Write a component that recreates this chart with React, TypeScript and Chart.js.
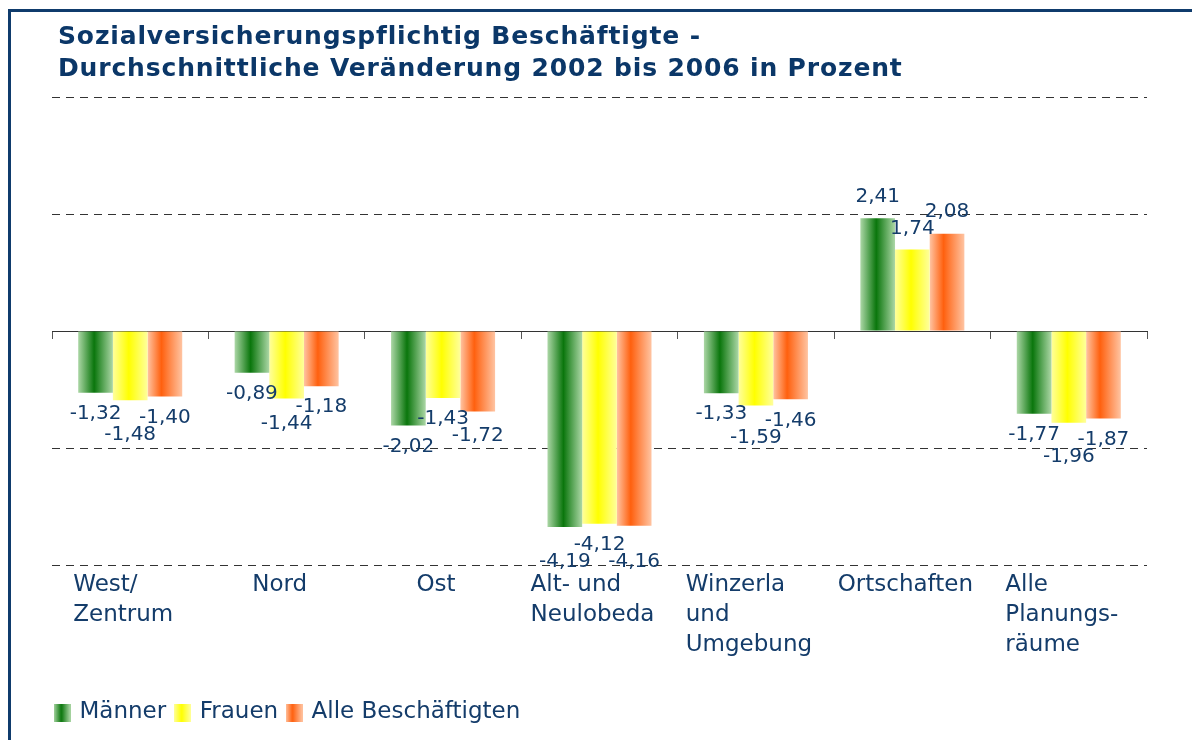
import React, { useEffect, useRef } from "react";
import { Chart, registerables } from "chart.js";

Chart.register(...registerables);

// Planning areas (line breaks as shown under the axis)
const categories: string[][] = [
  ["West/", "Zentrum"],
  ["Nord"],
  ["Ost"],
  ["Alt- und", "Neulobeda"],
  ["Winzerla", "und", "Umgebung"],
  ["Ortschaften"],
  ["Alle", "Planungs-", "räume"],
];

// Average annual change 2002–2006 in percent
const maenner = [-1.32, -0.89, -2.02, -4.19, -1.33, 2.41, -1.77];
const frauen = [-1.48, -1.44, -1.43, -4.12, -1.59, 1.74, -1.96];
const alleBeschaeftigten = [-1.4, -1.18, -1.72, -4.16, -1.46, 2.08, -1.87];

const seriesNames = ["Männer", "Frauen", "Alle Beschäftigten"];

const yMin = -5;
const yMax = 5;
const yStep = 2.5;

const TEXT = "#143c6a";
const TITLE = "#0b3768";
const FONT = '"DejaVu Sans", Verdana, sans-serif';
const CAT_PCT = 0.665;

// Horizontal gradient stops per series: [edge, core, edge, corePosition]
const gradients: [string, string, string, number][] = [
  ["#acd7a6", "#0a760c", "#acd7a6", 0.46],
  ["#ffff9c", "#ffff00", "#ffff9c", 0.46],
  ["#ffc4a2", "#ff600e", "#ffc4a2", 0.4],
];

function fillGradient(ctx: CanvasRenderingContext2D, x0: number, x1: number, d: number) {
  const [a, b, c, p] = gradients[d];
  const g = ctx.createLinearGradient(x0, 0, x1, 0);
  g.addColorStop(0, a);
  g.addColorStop(p, b);
  g.addColorStop(1, c);
  return g;
}

function barFill(d: number) {
  return (context: any) => {
    const chart = context.chart;
    const xs = chart.scales.x;
    if (!xs || context.dataIndex === undefined) return gradients[d][1];
    const n = chart.data.labels.length;
    const catW = (xs.right - xs.left) / n;
    const barW = (catW * CAT_PCT) / 3;
    const center = xs.getPixelForValue(context.dataIndex) + (d - 1) * barW;
    return fillGradient(chart.ctx, center - barW / 2, center + barW / 2, d);
  };
}

function legendIcon(d: number) {
  const c = document.createElement("canvas");
  c.width = 17;
  c.height = 18;
  const cx = c.getContext("2d")!;
  cx.fillStyle = fillGradient(cx, 0, 17, d);
  cx.fillRect(0, 0, 17, 18);
  return c;
}

const fmt = (v: number) => v.toFixed(2).replace(".", ",");

// Value labels beyond each bar end, nudged outward when neighbours collide
const valueLabels = {
  id: "valueLabels",
  afterDatasetsDraw(chart: any) {
    const ctx = chart.ctx as CanvasRenderingContext2D;
    const GAP = 21;
    const LINE = 17;
    ctx.save();
    ctx.font = `20px ${FONT}`;
    ctx.fillStyle = TEXT;
    ctx.textAlign = "center";
    ctx.textBaseline = "middle";
    const n = chart.data.labels.length;
    for (let i = 0; i < n; i++) {
      const items = chart.data.datasets.map((ds: any, d: number) => {
        const el = chart.getDatasetMeta(d).data[i];
        const v = ds.data[i] as number;
        const text = fmt(v);
        const dir = v < 0 ? 1 : -1;
        return { x: el.x, y: el.y + dir * GAP, v, text, w: ctx.measureText(text).width, dir };
      });
      const placed: any[] = [];
      items
        .slice()
        .sort((a: any, b: any) => Math.abs(a.v) - Math.abs(b.v))
        .forEach((it: any) => {
          let moved = true;
          let guard = 0;
          while (moved && guard++ < 10) {
            moved = false;
            for (const p of placed) {
              if (Math.abs(p.x - it.x) < (p.w + it.w) / 2 && Math.abs(p.y - it.y) < LINE) {
                it.y = p.y + it.dir * LINE;
                moved = true;
              }
            }
          }
          placed.push(it);
        });
      placed.forEach((it) => ctx.fillText(it.text, it.x, it.y));
    }
    ctx.restore();
  },
};

// Category names below the plot, each block left-aligned and centred on its slot
const categoryLabels = {
  id: "categoryLabels",
  afterDraw(chart: any) {
    const ctx = chart.ctx as CanvasRenderingContext2D;
    const xs = chart.scales.x;
    const base = chart.chartArea.bottom + 26;
    ctx.save();
    ctx.font = `23px ${FONT}`;
    ctx.fillStyle = TEXT;
    ctx.textAlign = "left";
    ctx.textBaseline = "alphabetic";
    categories.forEach((lines, i) => {
      const cx = xs.getPixelForValue(i);
      const bw = Math.max(...lines.map((l) => ctx.measureText(l).width));
      const left = cx - bw / 2 - 7;
      lines.forEach((l, k) => ctx.fillText(l, left, base + k * 30));
    });
    ctx.restore();
  },
};

export default function App() {
  const ref = useRef<HTMLCanvasElement>(null);

  useEffect(() => {
    if (!ref.current) return;
    const icons = [0, 1, 2].map(legendIcon);
    const series = [maenner, frauen, alleBeschaeftigten];
    const chart = new Chart(ref.current, {
      type: "bar",
      data: {
        labels: categories,
        datasets: series.map((data, d) => ({
          label: seriesNames[d],
          data,
          backgroundColor: barFill(d),
          borderWidth: 0,
          categoryPercentage: CAT_PCT,
          barPercentage: 1,
        })),
      },
      options: {
        animation: false,
        responsive: false,
        events: [],
        layout: { padding: { left: 46, right: 45, top: 97, bottom: 6 } },
        scales: {
          x: {
            display: true,
            grid: { display: false },
            border: { display: false },
            ticks: { display: false },
            afterFit: (s: any) => {
              s.height = 126;
            },
          },
          x2: {
            type: "category",
            axis: "x",
            position: { y: 0 },
            z: 1,
            grid: {
              display: true,
              drawOnChartArea: false,
              drawTicks: true,
              tickLength: 7,
              offset: true,
              color: "#555555",
              lineWidth: 1,
            },
            border: { display: true, color: "#333333", width: 1 },
            ticks: { display: false },
          },
          y: {
            min: yMin,
            max: yMax,
            ticks: { display: false, stepSize: yStep },
            grid: {
              drawTicks: false,
              color: (c: any) => (c.tick && c.tick.value === 0 ? "rgba(0,0,0,0)" : "#333333"),
              lineWidth: 1,
            },
            border: { display: false, dash: [8, 6] },
            afterFit: (s: any) => {
              s.width = 6;
            },
          },
        } as any,
        plugins: {
          title: { display: false },
          tooltip: { enabled: false },
          legend: {
            display: true,
            position: "bottom",
            align: "start",
            labels: {
              usePointStyle: true,
              pointStyleWidth: 12,
              padding: 10,
              color: TEXT,
              font: { family: FONT, size: 23 },
              generateLabels: (ch: any) =>
                ch.data.datasets.map((ds: any, i: number) => ({
                  text: ds.label,
                  pointStyle: icons[i],
                  fillStyle: "rgba(0,0,0,0)",
                  strokeStyle: "rgba(0,0,0,0)",
                  lineWidth: 0,
                  hidden: false,
                  datasetIndex: i,
                  fontColor: TEXT,
                })),
            },
          },
        },
      },
      plugins: [valueLabels, categoryLabels],
    });
    return () => chart.destroy();
  }, []);

  return (
    <div
      style={{
        position: "absolute",
        left: 0,
        top: 0,
        width: 1192,
        height: 740,
        overflow: "hidden",
        background: "#ffffff",
      }}
    >
      <div
        style={{
          position: "absolute",
          left: 8,
          top: 9,
          width: 1400,
          height: 1000,
          borderTop: "3px solid #0f3b6c",
          borderLeft: "3px solid #0f3b6c",
        }}
      />
      <canvas ref={ref} width={1192} height={740} style={{ position: "absolute", left: 0, top: 0 }} />
      <div
        style={{
          position: "absolute",
          left: 58,
          top: 20,
          font: `bold 25px ${FONT}`,
          lineHeight: "32px",
          letterSpacing: "0.85px",
          color: TITLE,
          whiteSpace: "nowrap",
        }}
      >
        <div>Sozialversicherungspflichtig Beschäftigte -</div>
        <div>Durchschnittliche Veränderung 2002 bis 2006 in Prozent</div>
      </div>
    </div>
  );
}
